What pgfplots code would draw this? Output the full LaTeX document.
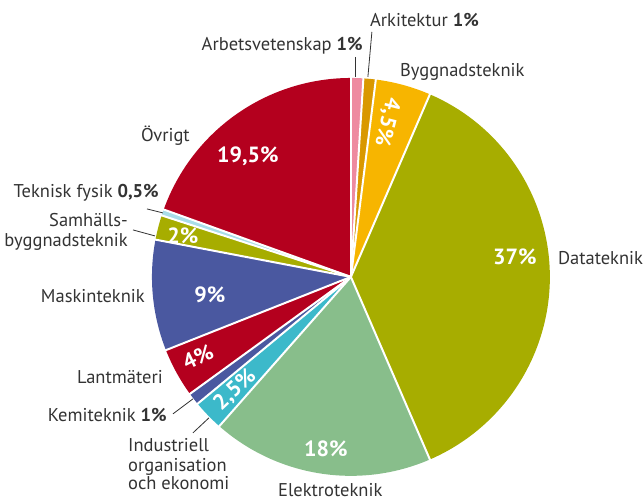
\documentclass[border=0pt]{standalone}
\usepackage{pgfplots}
\pgfplotsset{compat=1.18}
\usepackage{pgfplotstable}
\usepackage{fontspec}
\setmainfont{PT Sans}

\definecolor{cpink}{HTML}{EE8AA0}
\definecolor{corange}{HTML}{D99800}
\definecolor{cyellow}{HTML}{F7B500}
\definecolor{colive}{HTML}{A7AD00}
\definecolor{cgreen}{HTML}{88BE8B}
\definecolor{ccyan}{HTML}{3CB9CA}
\definecolor{cblue}{HTML}{4A58A0}
\definecolor{cred}{HTML}{B4001E}
\definecolor{clightcyan}{HTML}{A9DDE8}
\definecolor{labgray}{HTML}{333333}

% share of each field, clockwise from 12 o'clock
\pgfplotstableread{
pct col
1 cpink
1 corange
4.5 cyellow
37 colive
18 cgreen
2.5 ccyan
1 cblue
4 cred
9 cblue
2 colive
0.5 clightcyan
19.5 cred
}\slices

\begin{document}
\begin{tikzpicture}[
lab/.style={font=\fontsize{18.5}{21}\selectfont, text=labgray, inner sep=0pt},
pct/.style={font=\fontsize{22}{24}\selectfont\bfseries, text=white, inner sep=0pt},
]
\begin{axis}[
x=1pt, y=1pt,
xmin=0, xmax=643, ymin=0, ymax=502,
hide axis, clip=false,
]
% keep the whole canvas as the picture's size
\path (axis cs:0,0) rectangle (axis cs:643,502);
\pgfplotsextra{
  \xdef\angA{90}
  \pgfplotstablegetrowsof{\slices}
  \pgfmathtruncatemacro{\nlast}{\pgfplotsretval-1}
  \foreach \i in {0,...,\nlast}{
    \pgfplotstablegetelem{\i}{pct}\of\slices
    \pgfmathsetmacro{\angB}{\angA-3.6*\pgfplotsretval}
    \pgfplotstablegetelem{\i}{col}\of\slices
    \edef\slicecol{\pgfplotsretval}
    \fill[\slicecol] (axis cs:351,225) -- ++(\angA:199pt) arc[start angle=\angA, end angle=\angB, radius=199pt] -- cycle;
    \xdef\angA{\angB}
  }
  \xdef\angA{90}
  \foreach \i in {0,...,\nlast}{
    \draw[white, line width=2pt] (axis cs:351,225) -- ++(\angA:201pt);
    \pgfplotstablegetelem{\i}{pct}\of\slices
    \pgfmathsetmacro{\angB}{\angA-3.6*\pgfplotsretval}
    \xdef\angA{\angB}
  }
}
% leader lines
\draw[labgray, line width=0.8pt] (axis cs:356,445) -- (axis cs:356,425);
\draw[labgray, line width=0.8pt] (axis cs:372,470) -- (axis cs:368,425);
\draw[labgray, line width=0.8pt] (axis cs:147,293) -- (axis cs:163,289);
\draw[labgray, line width=0.8pt] (axis cs:133,272) -- (axis cs:155,266);
\draw[labgray, line width=0.8pt] (axis cs:173,88) -- (axis cs:193,103);
\draw[labgray, line width=0.8pt] (axis cs:193,69) -- (axis cs:209,84);
% labels
\node[lab, anchor=base east] at (axis cs:363,451) {Arbetsvetenskap \textbf{1\%}};
\node[lab, anchor=base west] at (axis cs:370,475) {Arkitektur \textbf{1\%}};
\node[lab, anchor=base west] at (axis cs:400,425) {Byggnadsteknik};
\node[lab, anchor=base west] at (axis cs:558,237) {Datateknik};
\node[lab, anchor=base west] at (axis cs:278,5) {Elektroteknik};
\node[lab, anchor=base west] at (axis cs:128,50) {Industriell};
\node[lab, anchor=base west] at (axis cs:128,30) {organisation};
\node[lab, anchor=base west] at (axis cs:128,12) {och ekonomi};
\node[lab, anchor=base east] at (axis cs:167,80) {Kemiteknik \textbf{1\%}};
\node[lab, anchor=base east] at (axis cs:163,118) {Lantmäteri};
\node[lab, anchor=base east] at (axis cs:145,199) {Maskinteknik};
\node[lab, anchor=base east] at (axis cs:128,275) {Samhälls-};
\node[lab, anchor=base east] at (axis cs:128,255) {byggnadsteknik};
\node[lab, anchor=base east] at (axis cs:159,304) {Teknisk fysik \textbf{0,5\%}};
\node[lab, anchor=base east] at (axis cs:190,360) {Övrigt};
% values inside slices
\node[pct, anchor=base east] at (axis cs:537,237) {37\%};
\node[pct, anchor=base] at (axis cs:326,45) {18\%};
\node[pct, anchor=base] at (axis cs:210,199) {9\%};
\node[pct, anchor=base] at (axis cs:183,258) {2\%};
\node[pct, anchor=base] at (axis cs:248,339) {19,5\%};
\node[pct, rotate=-104] at (axis cs:387,380) {4,5\%};
\node[pct, rotate=43] at (axis cs:235,112) {2,5\%};
\node[pct, rotate=26] at (axis cs:198,145) {4\%};
\end{axis}
\end{tikzpicture}
\end{document}
